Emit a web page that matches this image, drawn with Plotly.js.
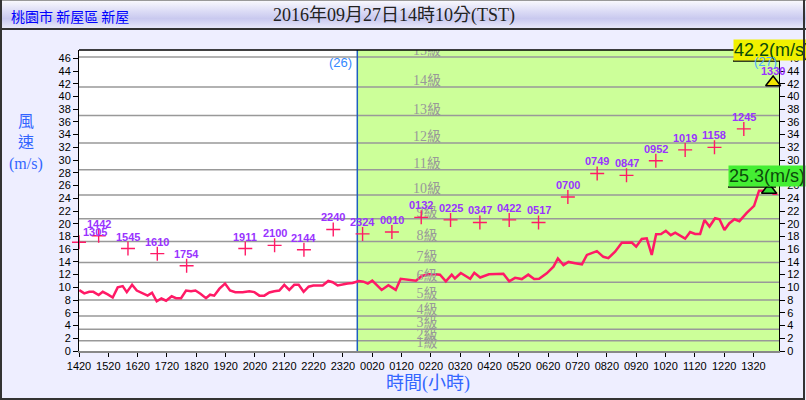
<!DOCTYPE html>
<html><head><meta charset="utf-8">
<script src="https://cdn.plot.ly/plotly-3.0.1.min.js"></script>
<style>
html,body{margin:0;padding:0;background:#eeeeff;}
#wrap{position:relative;width:806px;height:400px;background:#eeeeff;overflow:hidden;}
#head{position:absolute;left:0;top:0;width:806px;height:30px;background:linear-gradient(#f8f8fd,#dedef6 35%,#c9c9ef 65%,#e8e8f9);border-top:1px solid #999;border-bottom:2px solid #333;box-sizing:border-box;}
#chart{position:absolute;left:0;top:0;width:806px;height:400px;}
#frame{position:absolute;left:0;top:0;width:805px;height:400px;border-left:2px solid #333;border-right:2px solid #333;border-bottom:2px solid #333;box-sizing:border-box;pointer-events:none;}
</style></head>
<body>
<div id="wrap"><div id="head"></div><div id="chart"></div><div id="frame"></div></div>
<script>
// ---- data ----
const tickLabels = ["1420","1520","1620","1720","1820","1920","2020","2120","2220","2320","0020","0120","0220","0320","0420","0520","0620","0720","0820","0920","1020","1120","1220","1320"];
const tickHours = [0,1,2,3,4,5,6,7,8,9,10,11,12,13,14,15,16,17,18,19,20,21,22,23];

const windHours = [0.01,0.18,0.35,0.49,0.67,0.81,0.98,1.15,1.32,1.49,1.63,1.81,1.97,2.15,2.34,2.49,2.65,2.81,2.97,3.16,3.31,3.48,3.65,3.82,3.97,4.14,4.33,4.47,4.61,4.79,4.98,5.15,5.33,5.58,5.81,5.98,6.15,6.32,6.49,6.66,6.83,7.00,7.17,7.34,7.49,7.66,7.83,7.99,8.31,8.50,8.65,8.82,8.99,9.16,9.33,9.54,9.70,9.85,10.00,10.32,10.55,10.80,10.97,11.23,11.49,11.69,11.94,12.14,12.31,12.51,12.71,12.82,13.02,13.34,13.48,13.68,13.98,14.47,14.67,14.87,15.10,15.32,15.52,15.69,15.95,16.18,16.33,16.52,16.69,16.92,17.15,17.32,17.66,17.88,18.05,18.28,18.51,18.85,19.00,19.19,19.36,19.53,19.68,19.85,20.01,20.18,20.33,20.67,20.84,21.01,21.18,21.33,21.50,21.69,21.84,22.01,22.17,22.35,22.52,22.77,23.02,23.19,23.34,23.51,23.68,23.82];
const windSpeed = [9.57,9.05,9.3,9.3,8.8,9.3,8.9,8.4,10.0,10.2,9.25,10.4,9.5,9.05,8.7,9.15,7.8,8.25,7.9,8.6,8.3,8.3,9.5,9.4,9.5,9.0,8.3,8.85,8.7,9.8,10.6,9.5,9.25,9.25,9.4,9.25,8.7,8.7,9.2,9.4,9.5,10.4,9.6,10.4,10.4,9.3,10.1,10.3,10.3,11.0,10.8,10.3,10.5,10.6,10.7,11.0,10.9,10.6,11.05,9.6,10.35,9.6,11.35,11.25,11.05,11.8,12.05,12.05,12.0,10.95,12.0,11.4,12.25,11.35,12.3,11.55,12.05,12.15,10.95,11.5,11.3,12.0,11.3,11.35,12.2,13.25,14.55,13.5,14.0,13.8,13.6,15.1,15.7,14.8,14.6,15.6,17.0,17.05,16.4,17.6,17.7,15.1,18.35,18.4,18.9,18.2,18.6,17.65,18.7,18.4,18.4,20.6,19.56,20.87,20.7,19.0,20.05,20.7,20.4,21.7,22.8,25.2,25.2,25.6,24.7,24.7];

const gustTimes = ["1305","1442","1545","1610","1754","1911","2100","2144","2240","2324","0010","0132","0225","0347","0422","0517","0700","0749","0847","0952","1019","1158","1245"];
const gustHours = [0,0.67,1.67,2.67,3.67,5.67,6.67,7.67,8.67,9.67,10.67,11.67,12.67,13.67,14.67,15.67,16.67,17.67,18.67,19.67,20.67,21.67,22.67];
const gustSpeed = [17.1,18.1,16.1,15.3,13.4,16.1,16.6,15.9,19.1,18.4,18.7,21.0,20.6,20.2,20.6,20.2,24.2,27.9,27.6,29.9,31.6,32.0,34.9];

const maxGustTime = ["1330"];
const maxGustHour = [23.67];
const maxGustSpeed = [42.2];

const nowHour = [23.53];
const nowSpeed = [25.3];

const levelNames = ["1級","2級","3級","4級","5級","6級","7級","8級","9級","10級","11級","12級","13級","14級","15級"];
const levelLower = [0.3,1.6,3.4,5.5,8.0,10.8,13.9,17.2,20.8,24.5,28.5,32.7,37.0,41.5,46.2];

// ---- layout helpers ----
const XMAX = 23.87, YMAX = 47.3;
const dayBreak = 9.49, levelLabelX = 11.87;
const L = 79, T = 50, PW = 700, PH = 301;
const px = v => (v - L) / PW;          // pixel -> paper x
const py = v => (T + PH - v) / PH;     // pixel -> paper y
const PINK = '#ff1a66', PURPLE = '#9933ff';

const traces = [
  {x: windHours, y: windSpeed, mode: 'lines', line: {color: PINK, width: 2.5}, hoverinfo: 'skip'},
  {x: levelLower.map(() => levelLabelX), y: levelLower.map(v => Math.min(v + 0.85, YMAX - 0.05)), mode: 'text', text: levelNames,
   textfont: {family: 'Liberation Serif, Noto Sans CJK TC', size: 14, color: '#999999'}, cliponaxis: true, hoverinfo: 'skip'},
  {x: gustHours, y: gustSpeed, mode: 'markers',
   marker: {symbol: 'cross-thin-open', size: 10, color: PINK, line: {color: PINK, width: 1.4}},
   cliponaxis: false, hoverinfo: 'skip'},
  {x: maxGustHour, y: maxGustSpeed, mode: 'markers',
   marker: {symbol: 'triangle-up', size: 13, color: '#f2e600', line: {color: '#000', width: 1.5}}, cliponaxis: false, hoverinfo: 'skip'},
  {x: nowHour, y: nowSpeed, mode: 'markers',
   marker: {symbol: 'triangle-up', size: 13, color: '#33dd33', line: {color: '#000', width: 1.5}}, cliponaxis: false, hoverinfo: 'skip'},
  {x: [0], y: [0], yaxis: 'y2', mode: 'markers', marker: {opacity: 0}, hoverinfo: 'skip'}
];

const shapes = [
  {type: 'rect', layer: 'below', xref: 'x', yref: 'paper', x0: dayBreak, x1: XMAX, y0: 0, y1: 1, fillcolor: '#ccff99', line: {width: 0}}
];
levelLower.slice(1).forEach(v => shapes.push({type: 'line', layer: 'below', xref: 'paper', yref: 'y', x0: 0, x1: 1, y0: v, y1: v, line: {color: '#999999', width: 1.5}}));
shapes.push({type: 'line', layer: 'below', xref: 'x', yref: 'paper', x0: dayBreak, x1: dayBreak, y0: 0, y1: 1, line: {color: '#1f5fbf', width: 1.5}});
shapes.push({type: 'line', layer: 'above', xref: 'paper', yref: 'paper', x0: 0, x1: 1, y0: 1, y1: 1, line: {color: '#000', width: 1.5}});

const gustFont = {family: 'Arial', size: 11, color: PURPLE, weight: 'bold'};
const annotations = [];
gustTimes.forEach((t, i) => annotations.push({
  text: t, xref: 'x', yref: 'y', x: gustHours[i], y: gustSpeed[i], showarrow: false,
  xanchor: i === 0 ? 'left' : 'center', xshift: i === 0 ? 2 : 0, yanchor: 'middle', yshift: i === 0 ? 10 : 12, font: gustFont}));
annotations.push({text: maxGustTime[0], xref: 'x', yref: 'y', x: maxGustHour[0], y: maxGustSpeed[0], showarrow: false,
  xanchor: 'center', yanchor: 'middle', yshift: 11, font: gustFont});
annotations.push(
  {text: '桃園市 新屋區 新屋', xref: 'paper', yref: 'paper', x: px(9), y: py(16), xanchor: 'left', yanchor: 'middle', showarrow: false,
   font: {family: 'Noto Sans CJK TC', size: 14, color: '#0000ff'}},
  {text: '2016年09月27日14時10分(TST)', xref: 'paper', yref: 'paper', x: px(394), y: py(16), xanchor: 'center', yanchor: 'middle', showarrow: false,
   font: {family: 'Liberation Serif, Noto Sans CJK TC', size: 18, color: '#222'}},
  {text: '風<br>速<br>(m/s)', xref: 'paper', yref: 'paper', x: px(26), y: py(143), xanchor: 'center', yanchor: 'middle', showarrow: false,
   font: {family: 'Liberation Serif, Noto Sans CJK TC', size: 16, color: '#3366ff'}},
  {text: '時間(小時)', xref: 'paper', yref: 'paper', x: px(428), y: py(383), xanchor: 'center', yanchor: 'middle', showarrow: false,
   font: {family: 'Liberation Serif, Noto Sans CJK TC', size: 18, color: '#3366ff'}},
  {text: '(26)', xref: 'x', yref: 'paper', x: dayBreak, y: py(62), xanchor: 'right', xshift: -3, yanchor: 'middle', showarrow: false,
   font: {family: 'Arial', size: 13, color: '#3388ff'}},
  {text: maxGustSpeed[0].toFixed(1) + '(m/s)', xref: 'paper', yref: 'paper', x: px(733), y: py(61), xanchor: 'left', yanchor: 'bottom', showarrow: false,
   bgcolor: '#f0f000', borderpad: 0, font: {family: 'Arial', size: 18, color: '#0a4a0a'}},
  {text: '(27)', xref: 'paper', yref: 'paper', x: px(765), y: py(61), xanchor: 'center', yanchor: 'middle', showarrow: false,
   font: {family: 'Arial', size: 13, color: '#55aaff'}},
  {text: nowSpeed[0].toFixed(1) + '(m/s)', xref: 'paper', yref: 'paper', x: px(728), y: py(187), xanchor: 'left', yanchor: 'bottom', showarrow: false,
   bgcolor: '#44ee33', borderpad: 0, font: {family: 'Arial', size: 18, color: '#0a4a0a'}}
);
shapes.push({type: 'line', layer: 'above', xref: 'paper', yref: 'paper', x0: px(733), x1: px(780), y0: py(61), y1: py(61), line: {color: '#000', width: 1.5}});
shapes.push({type: 'line', layer: 'above', xref: 'paper', yref: 'paper', x0: px(728), x1: px(776), y0: py(187), y1: py(187), line: {color: '#000', width: 1.5}});

const yax = {range: [0, YMAX], tick0: 0, dtick: 2, ticks: 'outside', ticklen: 5, tickcolor: '#000', showline: true, linecolor: '#000', linewidth: 1,
  showgrid: false, zeroline: false, fixedrange: true, tickfont: {family: 'Arial', size: 11, color: '#000'}};

const layout = {
  width: 806, height: 400, margin: {l: L, r: 806 - L - PW, t: T, b: 400 - T - PH},
  paper_bgcolor: 'rgba(0,0,0,0)', plot_bgcolor: '#ffffff', showlegend: false,
  xaxis: {range: [0, XMAX], tickvals: tickHours, ticktext: tickLabels, ticks: 'outside', ticklen: 4, tickcolor: '#000',
    showline: true, linecolor: '#888', linewidth: 1.5, showgrid: false, zeroline: false, fixedrange: true,
    tickfont: {family: 'Arial', size: 11, color: '#000'}},
  yaxis: Object.assign({}, yax),
  yaxis2: Object.assign({}, yax, {overlaying: 'y', side: 'right'}),
  shapes: shapes, annotations: annotations
};
Plotly.newPlot('chart', traces, layout, {displayModeBar: false, staticPlot: true});
</script>
</body></html>
